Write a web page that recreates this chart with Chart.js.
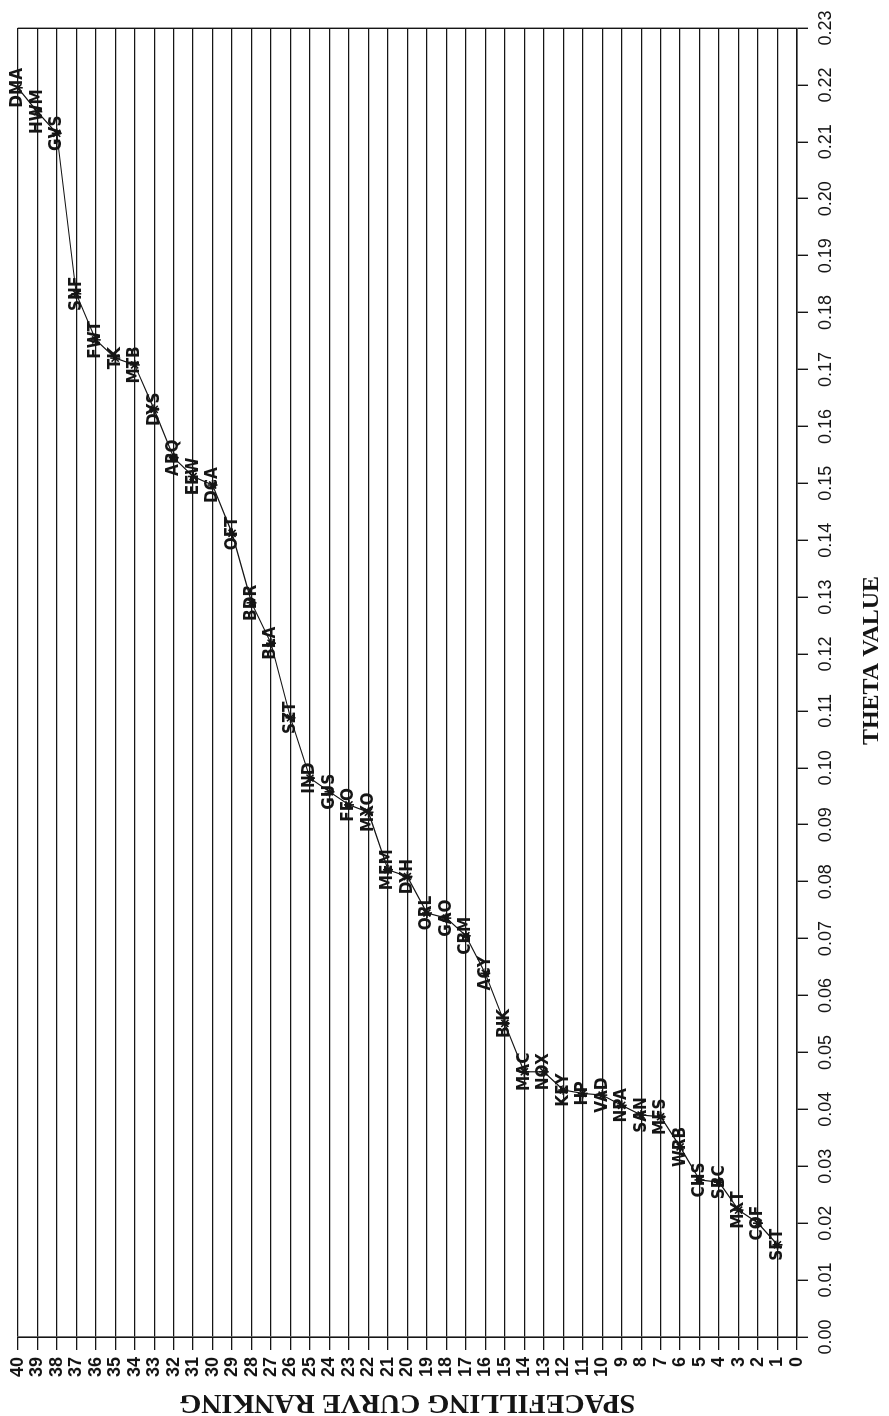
<!DOCTYPE html>
<html>
<head>
<meta charset="utf-8">
<title>Theta value by spacefilling curve ranking</title>
<script src="https://cdn.jsdelivr.net/npm/chart.js@4.4.1/dist/chart.umd.min.js"></script>
<style>
  html, body { margin: 0; padding: 0; background: #fff; overflow: hidden; }
  body { width: 889px; height: 1416px; position: relative; }
  /* the plot is laid out landscape and turned a quarter turn onto the page */
  #wrap {
    position: absolute; left: 0; top: 0;
    width: 1416px; height: 889px;
    transform-origin: 0 0;
    transform: translate(0, 1416px) rotate(-90deg);
  }
  canvas { display: block; }
</style>
</head>
<body>
<div id="wrap"><canvas id="rankChart" width="1416" height="889"></canvas></div>
<script>
// ranking of each site along the spacefilling curve
const rankings = [40, 39, 38, 37, 36, 35, 34, 33, 32, 31, 30, 29, 28, 27, 26, 25, 24, 23, 22, 21,
                  20, 19, 18, 17, 16, 15, 14, 13, 12, 11, 10, 9, 8, 7, 6, 5, 4, 3, 2, 1];

const siteCodes = ['DMA', 'HWM', 'GVS', 'SNF', 'FWT', 'TK', 'MTB', 'DYS', 'ABQ', 'EEW',
                   'DCA', 'OFT', 'BDR', 'BLA', 'SZT', 'IND', 'GUS', 'FFO', 'MXO', 'MEM',
                   'DYH', 'ORL', 'GAO', 'CBM', 'ACY', 'BIK', 'MAC', 'NOX', 'KEY', 'HP',
                   'VAD', 'NPA', 'SAN', 'MFS', 'WRB', 'CHS', 'SBC', 'MXT', 'COF', 'SFT'];

const thetaValues = [0.2195, 0.2153, 0.2115, 0.1833, 0.1752, 0.1720, 0.1708, 0.1630, 0.1545, 0.1512,
                     0.1497, 0.1412, 0.1290, 0.1219, 0.1088, 0.0982, 0.0958, 0.0935, 0.0922, 0.0821,
                     0.0809, 0.0745, 0.0736, 0.0705, 0.0639, 0.0551, 0.0466, 0.0466, 0.0434, 0.0428,
                     0.0425, 0.0407, 0.0390, 0.0387, 0.0334, 0.0276, 0.0272, 0.0223, 0.0200, 0.0162];

const thetaTicks = [0.00, 0.01, 0.02, 0.03, 0.04, 0.05, 0.06, 0.07, 0.08, 0.09, 0.10, 0.11,
                    0.12, 0.13, 0.14, 0.15, 0.16, 0.17, 0.18, 0.19, 0.20, 0.21, 0.22, 0.23];

const rankTicks = [0, 1, 2, 3, 4, 5, 6, 7, 8, 9, 10, 11, 12, 13, 14, 15, 16, 17, 18, 19, 20,
                   21, 22, 23, 24, 25, 26, 27, 28, 29, 30, 31, 32, 33, 34, 35, 36, 37, 38, 39, 40];

const ink = '#151515';

// writes each site code over its point
const siteLabels = {
  id: 'siteLabels',
  afterDatasetsDraw(chart) {
    const ctx = chart.ctx;
    const meta = chart.getDatasetMeta(0);
    ctx.save();
    ctx.font = 'bold 17px "Liberation Sans Narrow", "DejaVu Sans Condensed", sans-serif';
    ctx.fillStyle = ink;
    ctx.textAlign = 'center';
    ctx.textBaseline = 'middle';
    meta.data.forEach((pt, i) => {
      ctx.fillText(siteCodes[i], pt.x, pt.y);
    });
    ctx.restore();
  }
};

// theta axis caption, sitting a little right of the axis middle
const thetaCaption = {
  id: 'thetaCaption',
  afterDraw(chart) {
    const { ctx, chartArea } = chart;
    ctx.save();
    ctx.font = 'bold 24px "Liberation Serif", serif';
    ctx.fillStyle = ink;
    ctx.textAlign = 'center';
    ctx.textBaseline = 'middle';
    ctx.fillText('THETA VALUE', (chartArea.left + chartArea.right) / 2 + 22, chart.height - 17);
    ctx.restore();
  }
};

new Chart(document.getElementById('rankChart'), {
  type: 'line',
  data: {
    datasets: [{
      data: thetaValues.map((t, i) => ({ x: t, y: rankings[i] })),
      borderColor: ink,
      borderWidth: 1.2,
      tension: 0,
      pointStyle: 'star',
      pointRadius: 5,
      pointBorderWidth: 1.6,
      pointBorderColor: ink,
      pointBackgroundColor: ink
    }]
  },
  options: {
    responsive: false,
    animation: false,
    devicePixelRatio: 1,
    layout: { padding: { top: 17, right: 28, left: 0, bottom: 0 } },
    plugins: {
      legend: { display: false },
      tooltip: { enabled: false }
    },
    scales: {
      x: {
        type: 'linear',
        min: 0,
        max: 0.23,
        afterBuildTicks: scale => { scale.ticks = thetaTicks.map(v => ({ value: v })); },
        afterFit: scale => { scale.height = 92; },
        grid: {
          color: c => (c.index === thetaTicks.length - 1 ? ink : 'rgba(0,0,0,0)'),
          lineWidth: 1.4,
          tickLength: 11,
          tickColor: ink
        },
        border: { color: ink, width: 1.6 },
        ticks: {
          color: ink,
          autoSkip: false,
          maxRotation: 0,
          padding: 7,
          font: { family: '"Liberation Sans", Arimo, sans-serif', size: 18 },
          callback: v => v.toFixed(2)
        },
        title: { display: false }
      },
      y: {
        type: 'linear',
        min: 0,
        max: 40,
        afterBuildTicks: scale => { scale.ticks = rankTicks.map(v => ({ value: v })); },
        afterFit: scale => { scale.width = 79; },
        grid: {
          color: ink,
          lineWidth: 1.3,
          tickLength: 13,
          tickColor: ink
        },
        border: { color: ink, width: 1.6 },
        ticks: {
          color: ink,
          autoSkip: false,
          padding: 7,
          font: { family: '"Liberation Sans", Arimo, sans-serif', size: 18, weight: 'bold' }
        },
        title: {
          display: true,
          text: 'SPACEFILLING CURVE RANKING',
          color: ink,
          font: { family: '"Liberation Serif", serif', size: 28, weight: 'bold', lineHeight: 1 },
          padding: { top: 0, bottom: 0 }
        }
      }
    }
  },
  plugins: [siteLabels, thetaCaption]
});
</script>
</body>
</html>
